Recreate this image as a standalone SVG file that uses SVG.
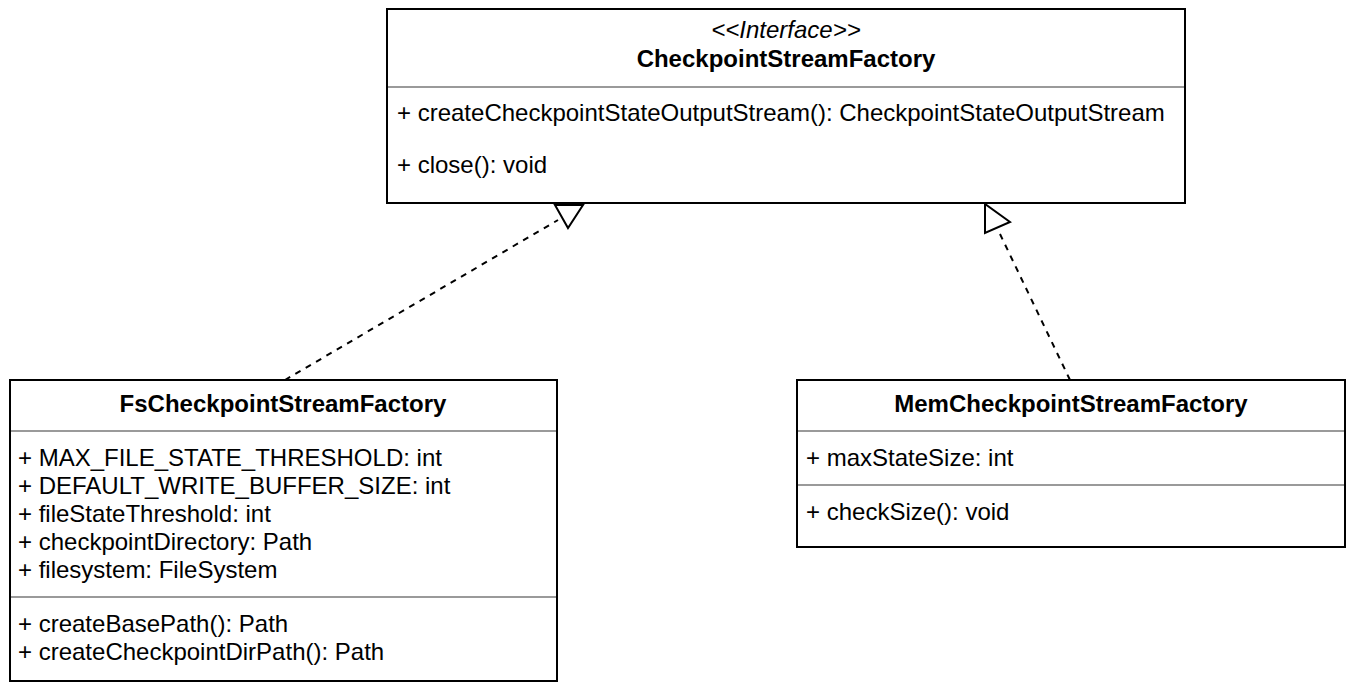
<svg xmlns="http://www.w3.org/2000/svg" width="1354" height="690" viewBox="0 0 1354 690">
<style>
.box{fill:#fff;stroke:#000;stroke-width:2}
.div{stroke:#9a9a9a;stroke-width:2}
text{font-family:"Liberation Sans",Arial,Helvetica,sans-serif;font-size:24px;fill:#000}
.t{font-weight:bold;text-anchor:middle}
.st{font-style:italic;text-anchor:middle}
.edge{stroke:#000;stroke-width:2;stroke-dasharray:6 6;fill:none}
.head{fill:#fff;stroke:#000;stroke-width:2;stroke-linejoin:miter}
</style>
<g id="connectors">
<path class="edge" d="M285 380 L558 220"/>
<polygon class="head" points="555,205 583,205 568,228"/>
<path class="edge" d="M1070 380 L1000 234"/>
<polygon class="head" points="985,204 985,233 1010,222"/>
</g>
<g id="CheckpointStreamFactory">
<rect class="box" x="387" y="9" width="798" height="194"/>
<text class="st" x="786" y="38">&lt;&lt;Interface&gt;&gt;</text>
<text class="t" x="786" y="67">CheckpointStreamFactory</text>
<line class="div" x1="388" y1="87" x2="1184" y2="87"/>
<text x="397" y="121">+ createCheckpointStateOutputStream(): CheckpointStateOutputStream</text>
<text x="397" y="173">+ close(): void</text>
</g>
<g id="FsCheckpointStreamFactory">
<rect class="box" x="10" y="380" width="547" height="301"/>
<text class="t" x="283" y="412">FsCheckpointStreamFactory</text>
<line class="div" x1="11" y1="431" x2="556" y2="431"/>
<text x="18" y="466">+ MAX_FILE_STATE_THRESHOLD: int</text>
<text x="18" y="494">+ DEFAULT_WRITE_BUFFER_SIZE: int</text>
<text x="18" y="522">+ fileStateThreshold: int</text>
<text x="18" y="550">+ checkpointDirectory: Path</text>
<text x="18" y="578">+ filesystem: FileSystem</text>
<line class="div" x1="11" y1="597" x2="556" y2="597"/>
<text x="18" y="632">+ createBasePath(): Path</text>
<text x="18" y="660">+ createCheckpointDirPath(): Path</text>
</g>
<g id="MemCheckpointStreamFactory">
<rect class="box" x="797" y="380" width="548" height="167"/>
<text class="t" x="1071" y="412">MemCheckpointStreamFactory</text>
<line class="div" x1="798" y1="431" x2="1344" y2="431"/>
<text x="806" y="466">+ maxStateSize: int</text>
<line class="div" x1="798" y1="485" x2="1344" y2="485"/>
<text x="806" y="520">+ checkSize(): void</text>
</g>
</svg>
